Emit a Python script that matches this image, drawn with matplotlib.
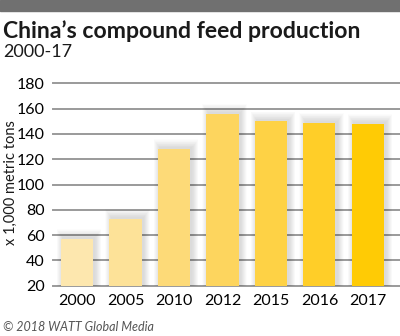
import matplotlib.pyplot as plt
from matplotlib.patches import Rectangle

years = ['2000', '2005', '2010', '2012', '2015', '2016', '2017']
production = [57, 73, 128, 156, 150, 149, 148]
bar_colors = ['#FDE7AE', '#FDE298', '#FDDA78', '#FDD55E', '#FED245', '#FFCE28', '#FFCB05']
yticks = [20, 40, 60, 80, 100, 120, 140, 160, 180]

fam = ['Lato', 'DejaVu Sans']

fig = plt.figure(figsize=(4, 3.36), dpi=100)
fig.patch.set_facecolor('white')

# grey band on top
fig.patches.append(Rectangle((0, 1 - 11 / 336), 1, 11 / 336, transform=fig.transFigure,
                             color='#707070', zorder=0))

ax = fig.add_axes([53 / 400, 1 - 285.7 / 336, 1 - 53 / 400, (285.7 - 83.3) / 336])
ax.set_xlim(-0.495, 6.66)
ax.set_ylim(20, 180)

for y in yticks:
    ax.axhline(y, color='#9a9a9a', lw=1.4, zorder=1, clip_on=False)

x = range(len(years))
# soft shadow behind the bars
for i, v in enumerate(production):
    for k in range(12):
        pad = 0.011 * (k + 1)
        ax.add_patch(Rectangle((i - 0.33 + 0.04 - pad, 20), 0.66 + 2 * pad,
                               v - 20 + 1 + pad * 50,
                               color='black', alpha=0.013, lw=0, zorder=2))

ax.bar(x, [v - 20 for v in production], bottom=20, width=0.66, color=bar_colors, zorder=3)

for s in ax.spines.values():
    s.set_visible(False)
ax.set_yticks(yticks)
ax.set_yticklabels([str(t) for t in yticks], family=fam, fontsize=11.5)
ax.set_xticks(list(x))
ax.set_xticklabels(years, family=fam, fontsize=11.5)
ax.tick_params(length=0, pad=6)

fig.text(3 / 400, 1 - 38 / 336, 'China\u2019s compound feed production', family=fam,
         fontsize=16.6, weight='bold', color='#1a1a1a', va='baseline')
fig.text(3 / 400, 1 - 57 / 336, '2000-17', family=fam, fontsize=13, color='#1a1a1a',
         va='baseline')
fig.text(11 / 400, 1 - 183 / 336, 'x 1,000 metric tons', family=fam, fontsize=10.5,
         rotation=90, ha='center', va='center', color='#1a1a1a')
fig.text(3 / 400, 1 - 327 / 336, '\u00a9 2018 WATT Global Media', family=fam, fontsize=9,
         style='italic', color='#555555', va='center')

fig.savefig('out.png', dpi=100)
